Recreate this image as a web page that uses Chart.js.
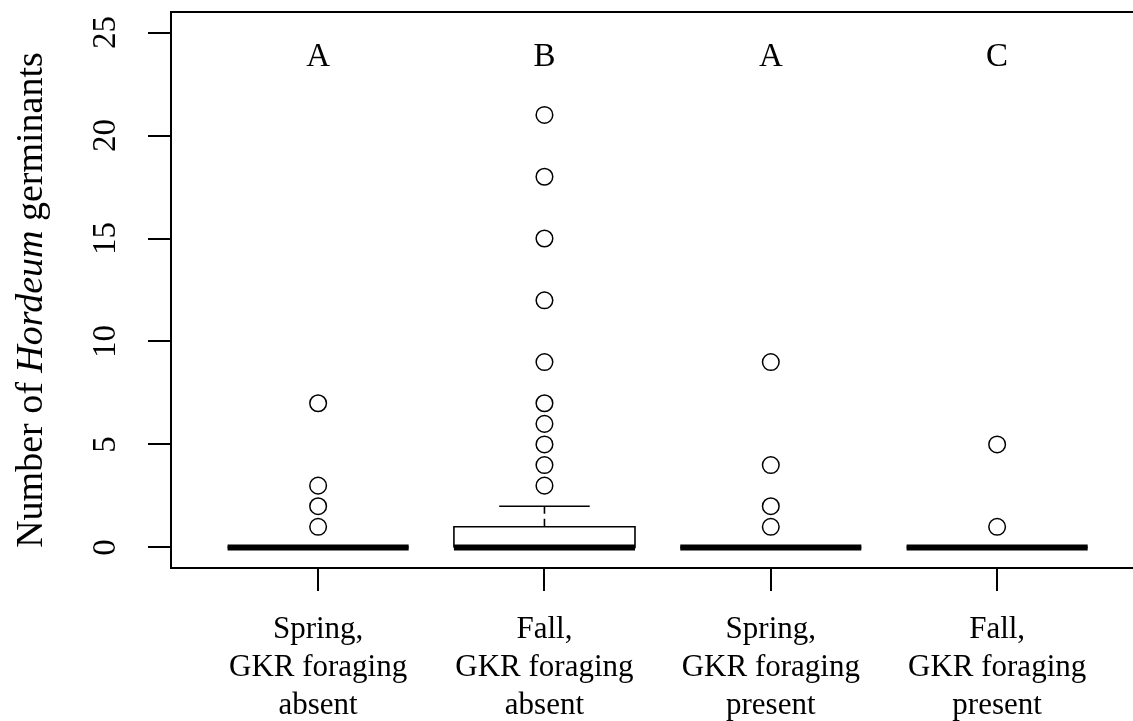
<!DOCTYPE html>
<html>
<head>
<meta charset="utf-8">
<script src="https://cdn.jsdelivr.net/npm/chart.js@4.4.0/dist/chart.umd.min.js"></script>
<style>
  body{margin:0;background:#fff;overflow:hidden;}
  #wrap{width:1133px;height:721px;}
</style>
</head>
<body>
<div id="wrap"><canvas id="chart" width="1133" height="721"></canvas></div>
<script>
// groups, left to right
const groupLabels = [
  ["Spring,", "GKR foraging", "absent"],
  ["Fall,", "GKR foraging", "absent"],
  ["Spring,", "GKR foraging", "present"],
  ["Fall,", "GKR foraging", "present"]
];
const lowerWhisker  = [0, 0, 0, 0];
const lowerQuartile = [0, 0, 0, 0];
const medians       = [0, 0, 0, 0];
const upperQuartile = [0, 1, 0, 0];
const upperWhisker  = [0, 2, 0, 0];
const outliers = [
  [1, 2, 3, 7],
  [3, 4, 5, 6, 7, 9, 12, 15, 18, 21],
  [1, 2, 4, 9],
  [1, 5]
];
const groupLetters = ["A", "B", "A", "C"];
const letterLevel = 23.8;
const yTicks = [0, 5, 10, 15, 20, 25];

const boxHalf = 0.4;
const capHalf = 0.2;
const serif = "'Liberation Serif', 'Times New Roman', serif";

function segment(label, pts, width, dash, order){
	return {label: label, data: pts, showLine: true, borderColor: '#000', borderWidth: width,
		borderDash: dash || [], pointRadius: 0, pointHoverRadius: 0, borderCapStyle: 'butt', order: order};
}

let datasets = [];
groupLabels.forEach((g, idx) => {
	let i = idx + 1;
	datasets.push(segment('median', [{x: i - boxHalf, y: medians[idx]}, {x: i + boxHalf, y: medians[idx]}], 6, null, 0));
	datasets.push(segment('box', [
		{x: i - boxHalf, y: lowerQuartile[idx]}, {x: i + boxHalf, y: lowerQuartile[idx]},
		{x: i + boxHalf, y: upperQuartile[idx]}, {x: i - boxHalf, y: upperQuartile[idx]},
		{x: i - boxHalf, y: lowerQuartile[idx]}], 1.6, null, 1));
	datasets.push(segment('whisker', [{x: i, y: upperQuartile[idx]}, {x: i, y: upperWhisker[idx]}], 1.6, [8, 5], 1));
	datasets.push(segment('whisker', [{x: i, y: lowerWhisker[idx]}, {x: i, y: lowerQuartile[idx]}], 1.6, [8, 5], 1));
	datasets.push(segment('cap', [{x: i - capHalf, y: upperWhisker[idx]}, {x: i + capHalf, y: upperWhisker[idx]}], 1.6, null, 1));
	datasets.push(segment('cap', [{x: i - capHalf, y: lowerWhisker[idx]}, {x: i + capHalf, y: lowerWhisker[idx]}], 1.6, null, 1));
});
datasets.push({
	label: 'outliers',
	data: outliers.flatMap((o, idx) => o.map(v => ({x: idx + 1, y: v}))),
	pointRadius: 8.3, pointHoverRadius: 8.3, borderWidth: 1.5,
	borderColor: '#000', backgroundColor: 'rgba(0,0,0,0)', order: 0
});

// box edges (the plot runs off the right side), group letters, y title with italic genus
const frameAndText = {
	id: 'frameAndText',
	afterDatasetsDraw(chart){
		const {ctx, chartArea, scales} = chart;
		ctx.save();
		ctx.strokeStyle = '#000';
		ctx.lineWidth = 2;
		ctx.beginPath();
		ctx.moveTo(chartArea.left, chartArea.top);
		ctx.lineTo(chart.width, chartArea.top);
		ctx.moveTo(chartArea.right - 1, chartArea.bottom);
		ctx.lineTo(chart.width, chartArea.bottom);
		ctx.stroke();

		ctx.fillStyle = '#000';
		ctx.font = "33px " + serif;
		ctx.textAlign = 'center';
		ctx.textBaseline = 'middle';
		groupLetters.forEach((l, i) => {
			ctx.fillText(l, scales.x.getPixelForValue(i + 1), scales.y.getPixelForValue(letterLevel));
		});

		const parts = [["Number of ", "normal"], ["Hordeum", "italic"], [" germinants", "normal"]];
		let total = 0;
		parts.forEach(p => { ctx.font = p[1] + " 38px " + serif; total += ctx.measureText(p[0]).width; });
		ctx.translate(42, 300);
		ctx.rotate(-Math.PI / 2);
		ctx.textAlign = 'left';
		ctx.textBaseline = 'alphabetic';
		let pos = -total / 2;
		parts.forEach(p => {
			ctx.font = p[1] + " 38px " + serif;
			ctx.fillText(p[0], pos, 0);
			pos += ctx.measureText(p[0]).width;
		});
		ctx.restore();
	}
};

new Chart(document.getElementById('chart'), {
	type: 'scatter',
	data: {datasets: datasets},
	options: {
		responsive: false,
		animation: false,
		devicePixelRatio: 1,
		layout: {padding: {top: 12, left: 0, right: 0, bottom: 0}},
		plugins: {legend: {display: false}, tooltip: {enabled: false}},
		scales: {
			x: {
				type: 'linear', min: 0.35, max: 4.557,
				afterBuildTicks: s => { s.ticks = groupLabels.map((g, i) => ({value: i + 1})); },
				afterFit: s => { s.height = 153; s.paddingLeft = 0; s.paddingRight = 0; },
				ticks: {
					callback: v => groupLabels[v - 1],
					font: {family: serif, size: 31, lineHeight: '38px'},
					color: '#000', padding: 20, maxRotation: 0, minRotation: 0, autoSkip: false
				},
				grid: {drawOnChartArea: false, drawTicks: true, tickLength: 23, color: '#000', lineWidth: 2},
				border: {display: true, color: '#000', width: 2}
			},
			y: {
				type: 'linear', min: -1, max: 26,
				afterBuildTicks: s => { s.ticks = yTicks.map(v => ({value: v})); },
				afterFit: s => { s.width = 171; s.paddingTop = 0; s.paddingBottom = 0; },
				ticks: {
					font: {family: serif, size: 33},
					color: '#000', minRotation: 90, maxRotation: 90, crossAlign: 'center', padding: 25
				},
				grid: {drawOnChartArea: false, drawTicks: true, tickLength: 23, color: '#000', lineWidth: 2},
				border: {display: true, color: '#000', width: 2}
			}
		}
	},
	plugins: [frameAndText]
});
</script>
</body>
</html>
